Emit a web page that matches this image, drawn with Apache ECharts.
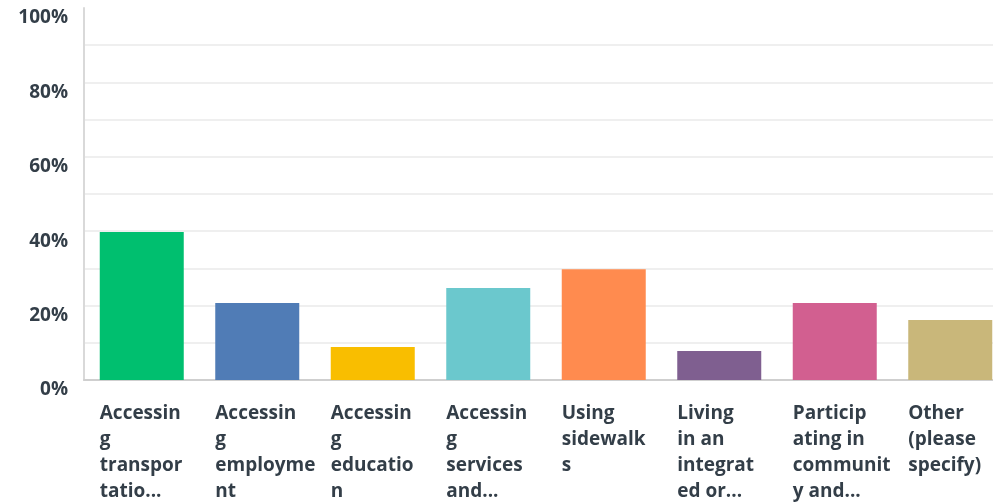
<!DOCTYPE html>
<html>
<head>
<meta charset="utf-8">
<script src="https://cdn.jsdelivr.net/npm/echarts@6/dist/echarts.min.js"></script>
<style>html,body{margin:0;padding:0;background:#fff;overflow:hidden;width:993px;height:502px;}#c{width:1008px;height:502px;}</style>
</head>
<body>
<div id="c"></div>
<script>
const categories = [
  "Accessin\ng\ntranspor\ntatio...",
  "Accessin\ng\nemployme\nnt",
  "Accessin\ng\neducatio\nn",
  "Accessin\ng\nservices\nand...",
  "Using\nsidewalk\ns",
  "Living\nin an\nintegrat\ned or...",
  "Particip\nating in\ncommunit\ny and...",
  "Other\n(please\nspecify)"
];
const values = [39.8, 20.7, 8.9, 24.7, 29.8, 7.8, 20.7, 16.1];
const colors = ["#00bf6f", "#507cb6", "#f9be00", "#6bc8cd", "#ff8b4f", "#7f5f90", "#d25f90", "#c9b77a"];
const yTicks = [0, 10, 20, 30, 40, 50, 60, 70, 80, 90, 100];

const font = "'Open Sans', 'DejaVu Sans', sans-serif";
const textColor = "#333e48";
const gridColors = yTicks.map((t, i) => i === yTicks.length - 1 ? "rgba(0,0,0,0)" : "#efefef");

const chart = echarts.init(document.getElementById('c'));
chart.setOption({
  animation: false,
  grid: { left: 84, right: 0, top: 8, bottom: 122, containLabel: false },
  xAxis: {
    type: 'category',
    data: categories,
    axisTick: { show: false },
    axisLine: { lineStyle: { color: '#cfcfcf', width: 2 } },
    axisLabel: {
      interval: 0,
      margin: 21,
      width: 84,
      align: 'center',
      verticalAlign: 'top',
      formatter: function (v) {
        return v.split('\n').map(l => '{a|' + l + '}').join('\n');
      },
      rich: {
        a: {
          align: 'left',
          fontFamily: font,
          fontSize: 19,
          fontWeight: 700,
          color: textColor,
          lineHeight: 26
        }
      }
    }
  },
  yAxis: {
    type: 'value',
    min: 0,
    max: 100,
    interval: 10,
    axisLine: { show: true, lineStyle: { color: '#d9d9d9', width: 2 } },
    axisTick: { show: false },
    splitLine: { show: true, lineStyle: { color: gridColors, width: 2 } },
    axisLabel: {
      margin: 16,
      fontFamily: font,
      fontSize: 19,
      fontWeight: 700,
      color: textColor,
      verticalAlign: 'top',
      lineHeight: 20,
      formatter: function (v) { return v % 20 === 0 ? v + '%' : ''; }
    }
  },
  series: [{
    type: 'bar',
    barWidth: 84,
    data: values.map((v, i) => ({ value: v, itemStyle: { color: colors[i] } }))
  }]
});
</script>
</body>
</html>
